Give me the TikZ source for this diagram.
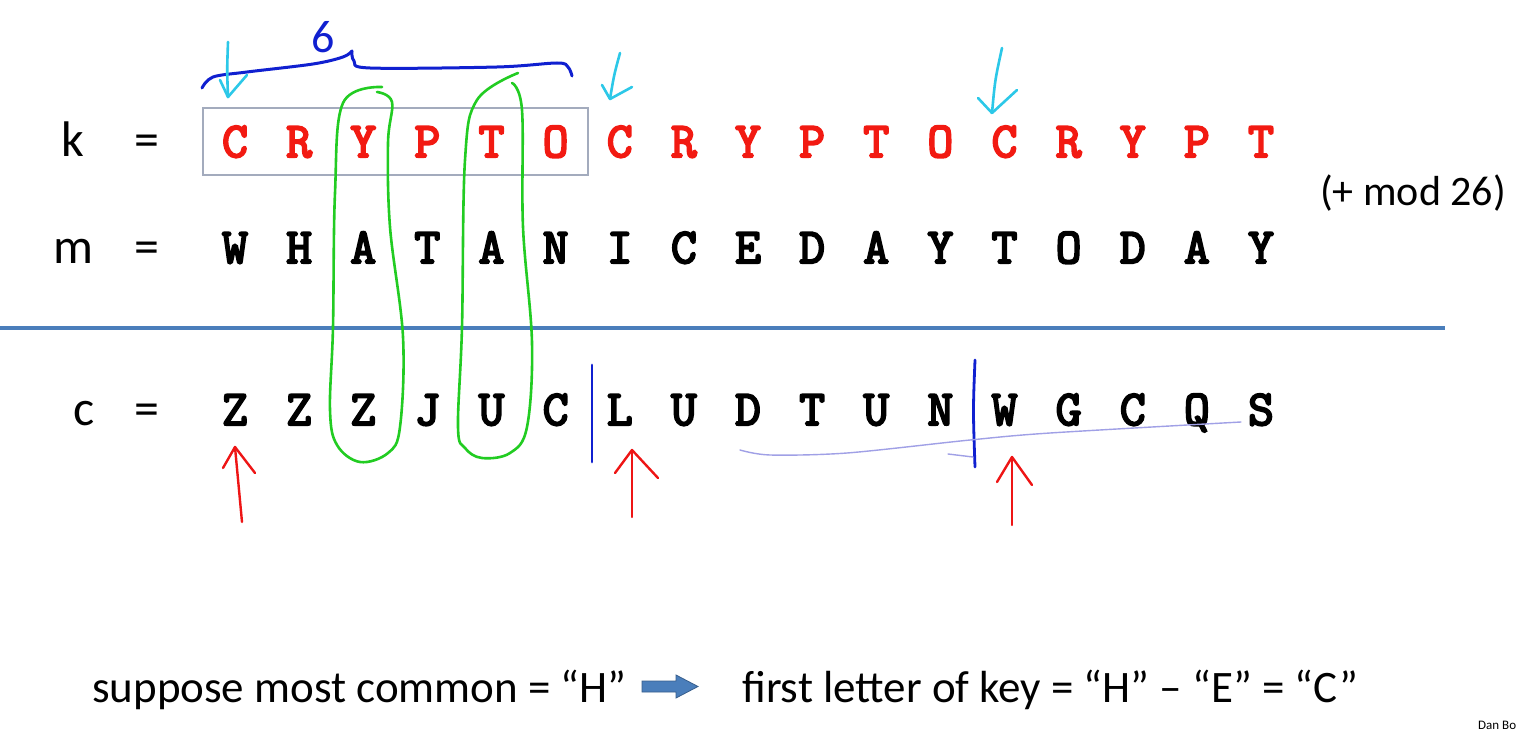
\documentclass[tikz,border=0pt]{standalone}
\usepackage{fontspec}
\setmainfont{Carlito}
\definecolor{keyred}{HTML}{F21A12}
\definecolor{sepblue}{HTML}{4A7EBB}
\definecolor{boxgray}{HTML}{A3ABBD}
\definecolor{penblue}{HTML}{1020D0}
\definecolor{pencyan}{HTML}{2CC8E8}
\definecolor{pengreen}{HTML}{22CC22}
\definecolor{penred}{HTML}{EE1515}
\definecolor{penlav}{HTML}{A0A0E6}
\newcommand\heavytxt[1]{\special{pdf:literal direct 2 Tr 2.1 w}#1\special{pdf:literal direct 0 Tr}}
\begin{document}
\begin{tikzpicture}[x=1pt,y=-1pt,
  letter/.style={font=\ttfamily\fontsize{50}{50}\selectfont, anchor=base, inner sep=0pt},
  keyletter/.style={letter, text=keyred},
  rowlabel/.style={font=\fontsize{50}{50}\selectfont, anchor=base, inner sep=0pt},
  note/.style={font=\fontsize{45}{45}\selectfont, anchor=base west, inner sep=0pt},
  pen/.style={line width=3pt, line cap=round, line join=round},
  greenpen/.style={pen, pengreen, line width=2.6pt},
  redpen/.style={pen, penred, line width=2.4pt},
  cyanpen/.style={pen, pencyan, line width=2.6pt}]
\useasboundingbox[fill=white] (0,0) rectangle (1531,733);

% separator line
\draw[sepblue, line width=4pt] (0,328) -- (1445,328);

% box round the first key block
\node[draw=boxgray, line width=1.6pt, minimum width=385, minimum height=67, inner sep=0pt] (kbox) at (395.5,141.5) {};

% row labels
\node[rowlabel] (lk) at (73,157) {k};
\node[rowlabel] (ek) at (147,157) {=};
\node[rowlabel] (lm) at (73,263) {m};
\node[rowlabel] (em) at (147,263) {=};
\node[rowlabel] (lc) at (84,425) {c};
\node[rowlabel] (ec) at (147,425) {=};

% letters
\foreach \ch [count=\i] in {C,R,Y,P,T,O,C,R,Y,P,T,O,C,R,Y,P,T}
  \node[keyletter] (k\i) at ({235+64.125*(\i-1)},157) {\heavytxt{\ch}};
\foreach \ch [count=\i] in {W,H,A,T,A,N,I,C,E,D,A,Y,T,O,D,A,Y}
  \node[letter] (m\i) at ({235+64.125*(\i-1)},263) {\heavytxt{\ch}};
\foreach \ch [count=\i] in {Z,Z,Z,J,U,C,L,U,D,T,U,N,W,G,C,Q,S}
  \node[letter] (c\i) at ({235+64.125*(\i-1)},425) {\heavytxt{\ch}};

% (+ mod 26)
\node[font=\fontsize{42}{42}\selectfont, anchor=base west, inner sep=0pt] (mod) at (1320,205) {(+ mod 26)};

% bottom line
\node[note] (sup) at (92,702) {suppose most common = “H”};
\node[note] (fir) at (742,702) {first letter of key = “H” – “E” = “C”};
\fill[sepblue, draw=sepblue!75!black, line width=0.8pt]
  (642,681) -- (676,681) -- (676,675) -- (698,686.5) -- (676,698) -- (676,692) -- (642,692) -- cycle;

\node[font=\fontsize{13}{13}\selectfont, anchor=base west, inner sep=0pt] (dan) at (1478,729) {Dan Bo};

% handwritten: blue brace and 6
\draw[pen, penblue] plot[smooth, tension=0.55] coordinates {(202,88) (213,77) (247,72) (313,64) (343,57) (352,51)};
\draw[pen, penblue] plot[smooth, tension=0.55] coordinates {(352,51) (354,61) (370,68) (497,67) (557,63) (568,67) (572,76)};
\node[font=\fontsize{46}{46}\selectfont, text=penblue, anchor=base, inner sep=0pt] (six) at (323,53) {6};

% cyan arrows
\draw[cyanpen] (228,42) .. controls (227,70) .. (228,97);
\draw[cyanpen] (220,80) -- (228,97) -- (247,75);
\draw[cyanpen] (620,53) .. controls (614,75) .. (610,99);
\draw[cyanpen] (602,85) -- (610,99) -- (632,87);
\draw[cyanpen] (1002,48) .. controls (995,80) .. (992,113);
\draw[cyanpen] (978,98) -- (992,113) -- (1017,90);

% green loops
\draw[greenpen] plot[smooth, tension=0.6] coordinates {(382,87) (343,103) (335,193) (333,327) (330,410) (337,445) (360,462) (388,453) (400,427) (403,337) (390,227) (388,143) (392,102) (377,92)};
\draw[greenpen] plot[smooth, tension=0.6] coordinates {(518,73) (477,100) (465,160) (462,327) (458,427) (465,448) (482,458) (510,453) (527,427) (532,343) (523,227) (522,110) (512,83)};

% blue bars
\draw[pen, penblue, line width=2.8pt] (592,365) -- (592,462);
\draw[pen, penblue, line width=2.8pt] (975,360) .. controls (973,410) .. (975,467);

% lavender underline
\draw[penlav, line width=1.4pt, line cap=round] plot[smooth, tension=0.5] coordinates {(740,450) (770,455) (847,453) (970,440) (1050,433) (1241,422)};
\draw[penlav, line width=1.4pt, line cap=round] (948,454) -- (973,457);

% red arrows
\coordinate (r1) at (242,522);
\coordinate (r2) at (632,517);
\coordinate (r3) at (1012,525);
\draw[redpen] (r1) -- (235,447);
\draw[redpen] (223,468) -- (235,447) -- (255,473);
\draw[redpen] (r2) -- (632,450);
\draw[redpen] (615,473) -- (632,450) -- (658,478);
\draw[redpen] (r3) -- (1012,457);
\draw[redpen] (997,482) -- (1012,457) -- (1032,485);
\end{tikzpicture}
\end{document}
